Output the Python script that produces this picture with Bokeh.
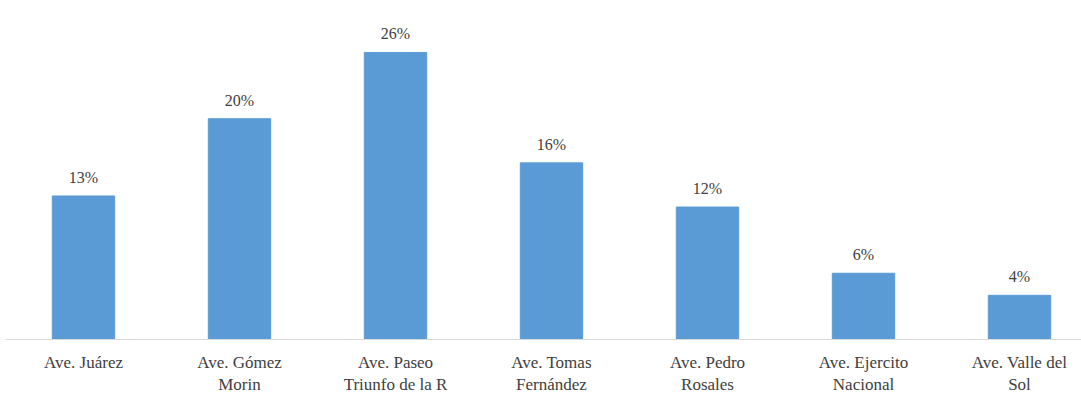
from bokeh.plotting import figure
from bokeh.models import ColumnDataSource, FixedTicker, Range1d
from bokeh.core.properties import value
from bokeh.embed import file_html
from bokeh.resources import INLINE

categories = ["Ave. Juárez", "Ave. Gómez\nMorin", "Ave. Paseo\nTriunfo de la R",
              "Ave. Tomas\nFernández", "Ave. Pedro\nRosales", "Ave. Ejercito\nNacional",
              "Ave. Valle del\nSol"]
values = [13, 20, 26, 16, 12, 6, 4]
labels = [f"{v}%" for v in values]

FONT = "Liberation Serif"

xs = list(range(len(categories)))
src = ColumnDataSource(dict(x=xs, top=values, label=labels))

p = figure(width=1081, height=397, output_backend="svg", toolbar_location=None,
           x_range=Range1d(-0.5, -0.5 + 1076 / 156), y_range=Range1d(0, 339 / 11.04),
           min_border_left=5, min_border_right=0, min_border_top=0, min_border_bottom=58)
p.vbar(x="x", top="top", width=0.4, source=src, color="#5B9BD5")
p.text(x="x", y="top", text="label", source=src, text_align="center", text_baseline="bottom",
       y_offset=-10, text_font=value(FONT), text_font_size="16px", text_color="#404040")

p.yaxis.visible = False
p.grid.visible = False
p.outline_line_color = None
ax = p.xaxis[0]
ax.ticker = FixedTicker(ticks=xs)
ax.major_label_overrides = {i: c for i, c in enumerate(categories)}
ax.major_tick_line_color = None
ax.minor_tick_line_color = None
ax.axis_line_color = "#D9D9D9"
ax.axis_line_width = 1
ax.major_label_text_font = FONT
ax.major_label_text_font_size = "17px"
ax.major_label_text_color = "#404040"
ax.major_label_text_line_height = 1.2
ax.major_label_standoff = 7

open("out.html", "w").write(file_html(p, INLINE))
